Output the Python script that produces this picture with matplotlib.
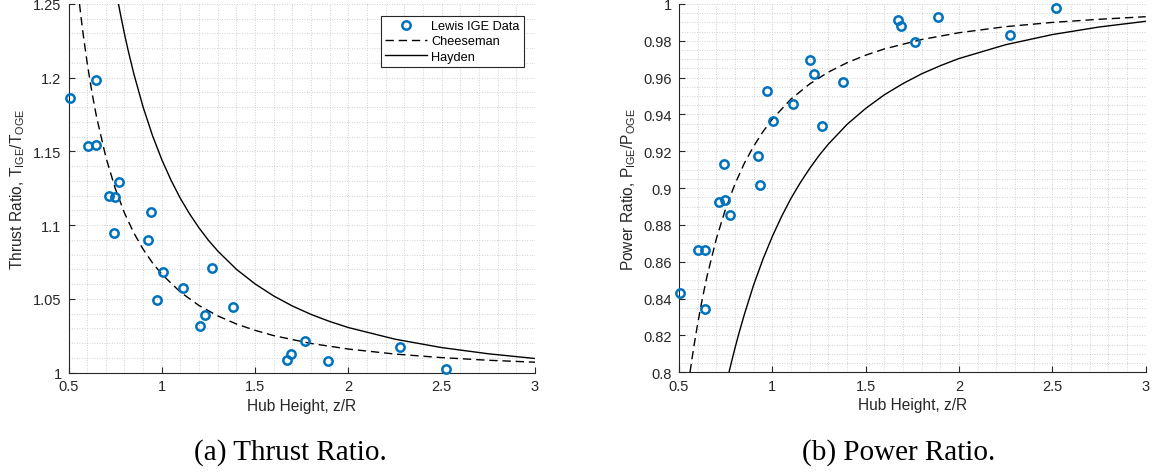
# Ground effect: thrust and power ratio vs hub height (Lewis data, Cheeseman, Hayden)
import matplotlib
matplotlib.use('Agg')
import matplotlib.pyplot as plt
from matplotlib.ticker import MultipleLocator, FormatStrFormatter

plt.rcParams['font.family'] = ['Liberation Sans', 'DejaVu Sans']

# Lewis IGE data
thrust_z = [0.508, 0.646, 0.603, 0.646, 0.772, 0.719, 0.749, 0.745, 0.940, 0.928, 1.006, 0.972,
            1.112, 1.267, 1.230, 1.205, 1.382, 1.692, 1.673, 1.767, 1.889, 2.278, 2.521]
thrust_ratio = [1.186, 1.1987, 1.1539, 1.1543, 1.1294, 1.120, 1.1189, 1.0949, 1.109, 1.0897, 1.068, 1.0494,
                1.0571, 1.0709, 1.0392, 1.0313, 1.0444, 1.0126, 1.0085, 1.0212, 1.0076, 1.0171, 1.0022]

power_z = [1.202, 1.225, 0.970, 1.109, 1.377, 1.003, 1.268, 0.925, 0.743, 0.935, 0.716, 0.748,
           0.771, 0.602, 0.641, 0.504, 0.641, 1.671, 1.687, 1.886, 1.764, 2.275, 2.518]
power_ratio = [0.9698, 0.962, 0.9529, 0.9459, 0.9575, 0.9363, 0.9337, 0.9176, 0.9133, 0.9017, 0.8926, 0.8937,
               0.8854, 0.8666, 0.8664, 0.8431, 0.8344, 0.9915, 0.9879, 0.9928, 0.9792, 0.9832, 0.9978]

# Cheeseman curve values
ch_z = [0.559, 0.57, 0.58, 0.6, 0.625, 0.65, 0.7, 0.75, 0.8, 0.85, 0.9, 0.95, 1.0, 1.1, 1.2, 1.3,
        1.4, 1.5, 1.6, 1.8, 2.0, 2.25, 2.5, 2.75, 3.0]
ch_thrust = [1.25, 1.2382, 1.2282, 1.2101, 1.1905, 1.1736, 1.1462, 1.125, 1.1082, 1.0947, 1.0836, 1.0744,
             1.0667, 1.0545, 1.0454, 1.0384, 1.0329, 1.0286, 1.0250, 1.0197, 1.0159, 1.0125, 1.0101,
             1.0083, 1.0070]
ch_power = [0.80, 0.8076, 0.8142, 0.8264, 0.84, 0.8521, 0.8725, 0.8889, 0.9023, 0.9135, 0.9228, 0.9307,
            0.9375, 0.9484, 0.9566, 0.9630, 0.9681, 0.9722, 0.9756, 0.9807, 0.9844, 0.9877, 0.99,
            0.9917, 0.9931]

# Hayden curve values
hy_z = [0.7675, 0.78, 0.8, 0.82, 0.85, 0.9, 0.95, 1.0, 1.05, 1.1, 1.15, 1.2, 1.25, 1.3, 1.4, 1.5,
        1.6, 1.7, 1.8, 1.9, 2.0, 2.25, 2.5, 2.75, 3.0]
hy_thrust = [1.2502, 1.2421, 1.2297, 1.2183, 1.2027, 1.1800, 1.1608, 1.1444, 1.1303, 1.1180, 1.1074,
             1.0980, 1.0897, 1.0824, 1.0700, 1.0601, 1.0519, 1.0451, 1.0394, 1.0346, 1.0305, 1.0226,
             1.0169, 1.0127, 1.0095]
hy_power = [0.7999, 0.8051, 0.8132, 0.8208, 0.8314, 0.8475, 0.8615, 0.8738, 0.8847, 0.8945, 0.9030,
            0.9107, 0.9177, 0.9239, 0.9346, 0.9433, 0.9507, 0.9568, 0.9621, 0.9665, 0.9704, 0.9779,
            0.9834, 0.9875, 0.9906]

blue = '#0072BD'
axcol = '#262626'

fig = plt.figure(figsize=(11.53, 4.77), dpi=100)
ax1 = fig.add_axes([68.5 / 1153, 103.5 / 477, 466.5 / 1153, 368.5 / 477])
ax2 = fig.add_axes([679 / 1153, 103.7 / 477, 466.7 / 1153, 368.3 / 477])


def style(ax, ylo, yhi, ymaj, ymin):
    ax.set_xlim(0.5, 3)
    ax.set_ylim(ylo, yhi)
    ax.xaxis.set_major_locator(MultipleLocator(0.5))
    ax.xaxis.set_minor_locator(MultipleLocator(0.1))
    ax.yaxis.set_major_locator(MultipleLocator(ymaj))
    ax.yaxis.set_minor_locator(MultipleLocator(ymin))
    ax.xaxis.set_major_formatter(FormatStrFormatter('%g'))
    ax.yaxis.set_major_formatter(FormatStrFormatter('%g'))
    ax.grid(True, which='both', color='#c2c2c2', linestyle=(0, (1, 2)), linewidth=0.6)
    ax.set_axisbelow(True)
    for s in ['top', 'right']:
        ax.spines[s].set_visible(False)
    for s in ['left', 'bottom']:
        ax.spines[s].set_color(axcol)
        ax.spines[s].set_linewidth(0.8)
    ax.tick_params(which='major', direction='in', length=4, width=0.8, color=axcol,
                   labelsize=10.5, labelcolor=axcol, pad=5)
    ax.tick_params(which='minor', length=0)
    ax.set_xlabel('Hub Height, z/R', fontsize=11.2, color=axcol, labelpad=3)


ax1.plot(thrust_z, thrust_ratio, 'o', ms=6, mfc='none', mec=blue, mew=1.8, label='Lewis IGE Data',
         clip_on=False, zorder=4)
ax1.plot(ch_z, ch_thrust, color='k', lw=1.0, dashes=(6, 3.5), label='Cheeseman')
ax1.plot(hy_z, hy_thrust, color='k', lw=1.0, label='Hayden')
style(ax1, 1.0, 1.25, 0.05, 0.01)
ax1.set_ylabel('Thrust Ratio, T$_\\mathregular{IGE}$/T$_\\mathregular{OGE}$', fontsize=11.2, color=axcol, labelpad=4)
leg = ax1.legend(loc='upper right', bbox_to_anchor=(0.9764, 0.9683), borderaxespad=0, fontsize=9.2,
                 fancybox=False, framealpha=1, edgecolor=axcol, handlelength=3.3, handletextpad=0.3,
                 borderpad=0.35, labelspacing=0.25)
leg.get_frame().set_linewidth(0.8)

ax2.plot(power_z, power_ratio, 'o', ms=6, mfc='none', mec=blue, mew=1.8, clip_on=False, zorder=4)
ax2.plot(ch_z, ch_power, color='k', lw=1.0, dashes=(6, 3.5))
ax2.plot(hy_z, hy_power, color='k', lw=1.0)
style(ax2, 0.8, 1.0, 0.02, 0.005)
ax2.set_ylabel('Power Ratio, P$_\\mathregular{IGE}$/P$_\\mathregular{OGE}$', fontsize=11.2, color=axcol, labelpad=4)

fig.text(290 / 1153, 1 - 453 / 477, '(a) Thrust Ratio.', ha='center', va='center',
         fontsize=21, family='Liberation Serif')
fig.text(899 / 1153, 1 - 453 / 477, '(b) Power Ratio.', ha='center', va='center',
         fontsize=21, family='Liberation Serif')

fig.savefig('out.png', dpi=100)
